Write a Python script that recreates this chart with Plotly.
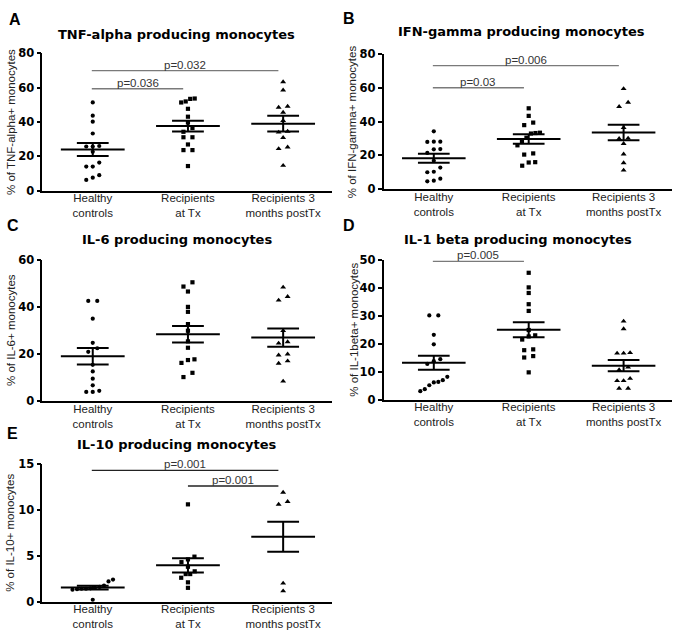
import plotly.graph_objects as go

# ---------------- data ----------------
categories = ["Healthy<br>controls", "Recipients<br>at Tx", "Recipients 3<br>months postTx"]

tnf_healthy = [51.4, 43.7, 40.2, 33.3, 25.7, 25.7, 26.0, 22.6, 16.3, 14.0, 14.0, 9.0, 7.5, 6.2]
tnf_tx = [53.7, 53.5, 52.0, 51.4, 47.7, 43.1, 39.7, 36.5, 34.3, 31.1, 31.1, 26.9, 23.6, 23.6, 14.3]
tnf_post = [63.4, 58.6, 49.1, 48.5, 45.6, 40.8, 34.5, 34.0, 30.9, 25.3, 24.4, 14.6]
tnf_mean = [23.9, 37.6, 39.0]
tnf_sem = [3.8, 3.2, 4.6]
tnf_pvalues = [(0, 1, 59.4, "p=0.036"), (0, 2, 70.0, "p=0.032")]

ifn_healthy = [34.3, 28.2, 28.2, 28.0, 23.8, 23.6, 21.5, 16.8, 12.8, 10.3, 10.0, 6.2, 5.0, 4.6]
ifn_tx = [48.0, 43.5, 39.5, 38.0, 33.5, 33.3, 33.0, 30.5, 28.5, 26.0, 21.2, 20.5, 16.0, 15.8, 13.9]
ifn_post = [59.6, 51.5, 49.0, 36.5, 30.2, 30.0, 27.0, 20.8, 15.6, 11.2]
ifn_mean = [18.3, 29.8, 33.6]
ifn_sem = [2.7, 2.8, 4.6]
ifn_pvalues = [(0, 1, 60.2, "p=0.03"), (0, 2, 73.3, "p=0.006")]

il6_healthy = [42.5, 42.5, 35.0, 24.8, 22.5, 21.0, 15.5, 12.7, 9.6, 6.8, 4.5, 4.0, 4.0]
il6_tx = [50.4, 48.6, 46.5, 40.0, 37.9, 32.7, 29.9, 25.4, 22.7, 17.8, 17.5, 16.3, 12.1, 10.3]
il6_post = [48.3, 44.3, 42.8, 29.9, 25.2, 24.6, 20.0, 19.6, 17.1, 16.1, 8.5]
il6_mean = [19.1, 28.4, 27.0]
il6_sem = [3.5, 3.5, 3.9]
il6_pvalues = []

il1_healthy = [30.1, 30.1, 23.2, 19.8, 14.5, 13.8, 12.8, 8.2, 7.0, 6.4, 6.2, 5.2, 3.8, 3.1]
il1_tx = [45.3, 40.1, 38.1, 34.1, 31.7, 24.9, 23.0, 22.6, 21.5, 18.0, 17.7, 15.6, 15.1, 9.8]
il1_post = [28.0, 25.3, 16.8, 16.6, 16.6, 11.6, 10.7, 7.6, 6.8, 6.8, 4.1, 4.1]
il1_mean = [13.2, 25.0, 12.2]
il1_sem = [2.5, 2.7, 2.0]
il1_pvalues = [(0, 1, 49.4, "p=0.005")]

il10_healthy = [2.4, 2.2, 1.75, 1.6, 1.5, 1.45, 1.4, 1.4, 1.35, 1.3, 0.2]
il10_tx = [10.6, 4.9, 4.6, 4.3, 3.8, 3.3, 3.0, 3.0, 2.6, 2.1, 1.5]
il10_post = [11.9, 10.9, 10.6, 2.0, 1.15]
il10_mean = [1.53, 3.95, 7.07]
il10_sem = [0.2, 0.78, 1.64]
il10_pvalues = [(0, 2, 14.3, "p=0.001"), (1, 2, 12.6, "p=0.001")]

# ---------------- layout geometry (pixels) ----------------
W, H = 676, 635
panels = [
    dict(letter="A", title="TNF-alpha producing monocytes", ytitle="% of TNF-alpha+ monocytes",
         groups=[tnf_healthy, tnf_tx, tnf_post], mean=tnf_mean, sem=tnf_sem, pv=tnf_pvalues,
         ymax=80, dtick=20, xpx=(42.3, 331.7), ypx=(187.7, 47.5), letterpos=(7, 12.5),
         titlepos=(176, 28.5), ytpos=11, pcolor="#7a7a7a"),
    dict(letter="B", title="IFN-gamma producing monocytes", ytitle="% of IFN-gamma+ monocytes",
         groups=[ifn_healthy, ifn_tx, ifn_post], mean=ifn_mean, sem=ifn_sem, pv=ifn_pvalues,
         ymax=80, dtick=20, xpx=(383.5, 672), ypx=(186.2, 48.5), letterpos=(341, 12),
         titlepos=(521, 25), ytpos=351.5, pcolor="#7a7a7a"),
    dict(letter="C", title="IL-6 producing monocytes", ytitle="% of IL-6+ monocytes",
         groups=[il6_healthy, il6_tx, il6_post], mean=il6_mean, sem=il6_sem, pv=il6_pvalues,
         ymax=60, dtick=20, xpx=(42.3, 331.7), ypx=(403.3, 258.3), letterpos=(5, 223),
         titlepos=(176.7, 237.3), ytpos=10.5, pcolor="#7a7a7a"),
    dict(letter="D", title="IL-1 beta producing monocytes", ytitle="% of IL-1beta+ monocytes",
         groups=[il1_healthy, il1_tx, il1_post], mean=il1_mean, sem=il1_sem, pv=il1_pvalues,
         ymax=50, dtick=10, xpx=(383.5, 672), ypx=(401.7, 258.3), letterpos=(341, 223),
         titlepos=(518, 237.3), ytpos=354, pcolor="#7a7a7a"),
    dict(letter="E", title="IL-10 producing monocytes", ytitle="% of IL-10+ monocytes",
         groups=[il10_healthy, il10_tx, il10_post], mean=il10_mean, sem=il10_sem, pv=il10_pvalues,
         ymax=15, dtick=5, xpx=(42.3, 331.7), ypx=(608, 467.3), letterpos=(5, 436),
         titlepos=(176.7, 447.3), ytpos=10, pcolor="#222222"),
]

symbols = ["circle", "square", "triangle-up"]
msizes = [4.2, 4.2, 5.2]
XR = (-0.53, 2.51)


def swarm_offsets(values, ppu_y, ppu_x, thr=4.5):
    order = sorted(range(len(values)), key=lambda i: values[i])
    clusters, cur = [], [order[0]]
    for a, b in zip(order, order[1:]):
        if (values[b] - values[a]) * ppu_y < thr:
            cur.append(b)
        else:
            clusters.append(cur)
            cur = [b]
    clusters.append(cur)
    offs = [0.0] * len(values)
    for cl in clusters:
        n = len(cl)
        if n == 1:
            continue
        sp = 9.0 if n == 2 else (6.5 if n == 3 else 4.5)
        for j, idx in enumerate(cl):
            offs[idx] = (j - (n - 1) / 2) * sp / ppu_x
    return offs


def px2paper_x(x):
    return x / W


def px2paper_y(y):
    return 1 - y / H


fig = go.Figure()
annotations = []
layout_axes = {}

for k, p in enumerate(panels):
    n = k + 1
    xa = "x" if n == 1 else f"x{n}"
    ya = "y" if n == 1 else f"y{n}"
    xkey = "xaxis" if n == 1 else f"xaxis{n}"
    ykey = "yaxis" if n == 1 else f"yaxis{n}"
    x0, x1 = p["xpx"]
    yb, yt = p["ypx"]
    ppu_x = (x1 - x0) / (XR[1] - XR[0])
    ppu_y = (yb - yt) / p["ymax"]

    for gi, vals in enumerate(p["groups"]):
        offs = swarm_offsets(vals, ppu_y, ppu_x)
        fig.add_trace(go.Scatter(
            x=[gi + o for o in offs], y=vals, mode="markers", xaxis=xa, yaxis=ya,
            marker=dict(symbol=symbols[gi], size=msizes[gi], color="black", line=dict(width=0)),
            cliponaxis=False, showlegend=False, hoverinfo="y"))

    # mean and SEM
    lx, ly = [], []
    for gi, (m, s) in enumerate(zip(p["mean"], p["sem"])):
        lx += [gi - 0.335, gi + 0.335, None, gi, gi, None,
               gi - 0.167, gi + 0.167, None, gi - 0.167, gi + 0.167, None]
        ly += [m, m, None, m - s, m + s, None, m + s, m + s, None, m - s, m - s, None]
    fig.add_trace(go.Scatter(x=lx, y=ly, mode="lines", xaxis=xa, yaxis=ya,
                             line=dict(color="black", width=2), showlegend=False,
                             hoverinfo="skip", cliponaxis=False))

    # p-value brackets
    for (g0, g1, yv, label) in p["pv"]:
        xs0 = g0 - 0.01 if g0 == 0 else g0
        xs1 = g1 - 0.05
        fig.add_trace(go.Scatter(x=[xs0, xs1], y=[yv, yv], mode="lines", xaxis=xa, yaxis=ya,
                                 line=dict(color=p["pcolor"], width=1.3), showlegend=False,
                                 hoverinfo="skip", cliponaxis=False))
        annotations.append(dict(x=(xs0 + xs1) / 2, y=yv, xref=xa, yref=ya, text=label,
                                showarrow=False, yanchor="bottom", yshift=-2,
                                font=dict(family="Liberation Sans", size=11.5, color="#333333")))

    layout_axes[xkey] = dict(
        domain=[px2paper_x(x0), px2paper_x(x1)], range=list(XR), anchor=ya,
        tickvals=[0, 1, 2], ticktext=categories, ticks="", showline=True,
        linecolor="black", linewidth=1.6, showgrid=False, zeroline=False,
        ticklabelstandoff=-4,
        tickfont=dict(family="Liberation Sans", size=11.5, color="#222222"), fixedrange=True)
    layout_axes[ykey] = dict(
        domain=[px2paper_y(yb), px2paper_y(yt)], range=[0, p["ymax"]], anchor=xa,
        dtick=p["dtick"], tick0=0, ticks="outside", ticklen=4, tickwidth=1.6,
        tickcolor="black", showline=True, linecolor="black", linewidth=1.6,
        showgrid=False, zeroline=False,
        tickfont=dict(family="DejaVu Sans", size=11.5, color="black", weight="bold"),
        fixedrange=True)

    # panel letter, title, y title
    annotations.append(dict(x=px2paper_x(p["letterpos"][0]), y=px2paper_y(p["letterpos"][1]),
                            xref="paper", yref="paper", text=p["letter"], showarrow=False,
                            xanchor="left", yanchor="middle",
                            font=dict(family="Liberation Sans", size=16, color="black", weight="bold")))
    annotations.append(dict(x=px2paper_x(p["titlepos"][0]), y=px2paper_y(p["titlepos"][1]),
                            xref="paper", yref="paper", text=p["title"], showarrow=False,
                            xanchor="center", yanchor="middle",
                            font=dict(family="DejaVu Sans", size=13, color="black", weight="bold")))
    annotations.append(dict(x=px2paper_x(p["ytpos"]), y=px2paper_y((yb + yt) / 2),
                            xref="paper", yref="paper", text=p["ytitle"], showarrow=False,
                            textangle=-90, xanchor="center", yanchor="middle",
                            font=dict(family="Liberation Sans", size=11.5, color="#222222")))

fig.update_layout(
    width=W, height=H, margin=dict(l=0, r=0, t=0, b=0),
    paper_bgcolor="white", plot_bgcolor="white", showlegend=False,
    annotations=annotations, **layout_axes)

fig.write_html("out.html", config={"displayModeBar": False},
               post_script="document.body.style.margin='0';")
